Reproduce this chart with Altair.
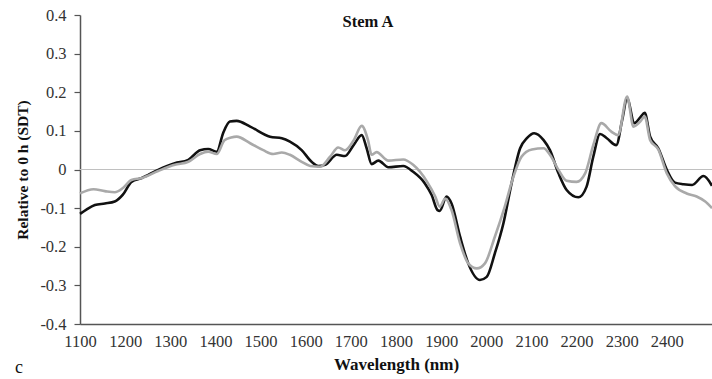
import altair as alt
import pandas as pd

# Series 1 (black)
wl_black = [1100, 1115, 1133, 1155, 1177, 1195, 1214, 1237, 1273, 1310, 1340, 1366, 1384, 1403,
            1417, 1432, 1447, 1477, 1521, 1547, 1565, 1591, 1613, 1628, 1643, 1669, 1687, 1706,
            1724, 1735, 1746, 1761, 1783, 1816, 1838, 1864, 1879, 1892, 1897, 1912, 1923, 1942,
            1960, 1986, 2001, 2019, 2038, 2056, 2075, 2090, 2106, 2127, 2141, 2160, 2178, 2204,
            2222, 2237, 2252, 2267, 2288, 2301, 2312, 2328, 2341, 2351, 2363, 2381, 2400, 2418,
            2437, 2456, 2481, 2500]
val_black = [-0.115, -0.103, -0.092, -0.088, -0.083, -0.065, -0.032, -0.022, -0.001, 0.016, 0.025,
             0.050, 0.053, 0.046, 0.094, 0.124, 0.126, 0.111, 0.085, 0.081, 0.072, 0.050, 0.020,
             0.009, 0.012, 0.038, 0.035, 0.063, 0.089, 0.055, 0.014, 0.023, 0.006, 0.009, -0.006,
             -0.036, -0.066, -0.105, -0.107, -0.070, -0.088, -0.174, -0.243, -0.286, -0.278,
             -0.217, -0.139, -0.036, 0.055, 0.081, 0.094, 0.076, 0.050, -0.010, -0.053, -0.072,
             -0.045, 0.033, 0.092, 0.081, 0.063, 0.128, 0.184, 0.120, 0.135, 0.147, 0.085, 0.055,
             -0.001, -0.034, -0.038, -0.040, -0.017, -0.042]

# Series 2 (grey)
wl_grey = [1100, 1130, 1155, 1177, 1195, 1214, 1237, 1273, 1310, 1340, 1366, 1384, 1403, 1420,
           1435, 1447, 1477, 1506, 1528, 1547, 1565, 1591, 1610, 1632, 1654, 1672, 1687, 1706,
           1724, 1738, 1746, 1757, 1783, 1816, 1838, 1869, 1887, 1897, 1909, 1923, 1942, 1960,
           1979, 1997, 2019, 2041, 2060, 2078, 2101, 2127, 2141, 2160, 2178, 2200, 2219, 2237,
           2255, 2277, 2292, 2312, 2326, 2341, 2351, 2363, 2381, 2400, 2418, 2444, 2466, 2485,
           2500]
val_grey = [-0.062, -0.051, -0.056, -0.059, -0.048, -0.027, -0.022, -0.004, 0.012, 0.020, 0.040,
            0.046, 0.040, 0.076, 0.083, 0.085, 0.068, 0.050, 0.040, 0.044, 0.038, 0.020, 0.009,
            0.007, 0.033, 0.057, 0.050, 0.075, 0.113, 0.076, 0.038, 0.045, 0.023, 0.026, 0.012,
            -0.032, -0.070, -0.096, -0.075, -0.105, -0.191, -0.243, -0.256, -0.243, -0.174,
            -0.096, -0.019, 0.033, 0.052, 0.055, 0.038, -0.001, -0.029, -0.032, -0.010, 0.063,
            0.120, 0.098, 0.089, 0.189, 0.111, 0.124, 0.137, 0.076, 0.052, -0.010, -0.043,
            -0.062, -0.070, -0.083, -0.100]

x_ticks = [1100, 1200, 1300, 1400, 1500, 1600, 1700, 1800, 1900, 2000, 2100, 2200, 2300, 2400]
y_ticks = [-0.4, -0.3, -0.2, -0.1, 0.0, 0.1, 0.2, 0.3, 0.4]

df_black = pd.DataFrame({"wl": wl_black, "val": val_black})
df_grey = pd.DataFrame({"wl": wl_grey, "val": val_grey})
df_zero = pd.DataFrame({"y": [0.0]})
df_title = pd.DataFrame({"t": ["Stem A"]})
df_panel = pd.DataFrame({"t": ["c"]})

SERIF = "Liberation Serif"

x_scale = alt.Scale(domain=[1100, 2500], nice=False, zero=False)
y_scale = alt.Scale(domain=[-0.4, 0.4], nice=False)

x_axis = alt.Axis(
    values=x_ticks, format="d", title="Wavelength (nm)", ticks=False, tickSize=0,
    labelPadding=17, labelBaseline="middle", labelFlush=False, labelOverlap=False,
    titleY=40, titleBaseline="middle", titleFontSize=17, grid=False,
)
y_axis = alt.Axis(
    values=y_ticks, title="Relative to 0 h (SDT)", tickSize=6, labelPadding=8,
    labelExpr="datum.value == 0 ? '0' : (datum.value < 0 ? '-' + format(-datum.value, '.1f') : format(datum.value, '.1f'))",
    titleX=-58, titleY=154.5, titleAlign="center", titleBaseline="middle", titleFontSize=15.5,
    grid=False, labelFlush=False,
)

zero = alt.Chart(df_zero).mark_rule(color="#c0c0c0", strokeWidth=1).encode(
    y=alt.Y("y:Q", scale=y_scale, axis=y_axis)
)

black = alt.Chart(df_black).mark_line(color="#111111", strokeWidth=2.6, interpolate="monotone").encode(
    x=alt.X("wl:Q", scale=x_scale, axis=x_axis),
    y=alt.Y("val:Q", scale=y_scale, axis=y_axis),
)
grey = alt.Chart(df_grey).mark_line(color="#a9a9a9", strokeWidth=2.6, interpolate="monotone").encode(
    x=alt.X("wl:Q", scale=x_scale, axis=x_axis),
    y=alt.Y("val:Q", scale=y_scale, axis=y_axis),
)

title = alt.Chart(df_title).mark_text(
    font=SERIF, fontSize=16.5, fontWeight="bold", color="#111111", align="center", baseline="alphabetic"
).encode(x=alt.value(288), y=alt.value(12), text="t:N")

panel = alt.Chart(df_panel).mark_text(
    font=SERIF, fontSize=18, color="#111111", align="center", baseline="alphabetic"
).encode(x=alt.value(-61), y=alt.value(358), text="t:N")

chart = alt.layer(zero, black, grey, title, panel).properties(
    width=632, height=309,
    autosize=alt.AutoSizeParams(type="none"),
    padding={"left": 80, "top": 15, "right": 0, "bottom": 55},
    background="white",
).configure_view(stroke=None).configure_axis(
    labelFont=SERIF, labelFontSize=16.5, labelColor="#333333",
    titleFont=SERIF, titleFontWeight="bold", titleColor="#111111",
    domainColor="#555555", domainWidth=1.5, tickColor="#555555", tickWidth=1.2,
)

chart.save("out.html", embed_options={"renderer": "svg", "actions": False})
